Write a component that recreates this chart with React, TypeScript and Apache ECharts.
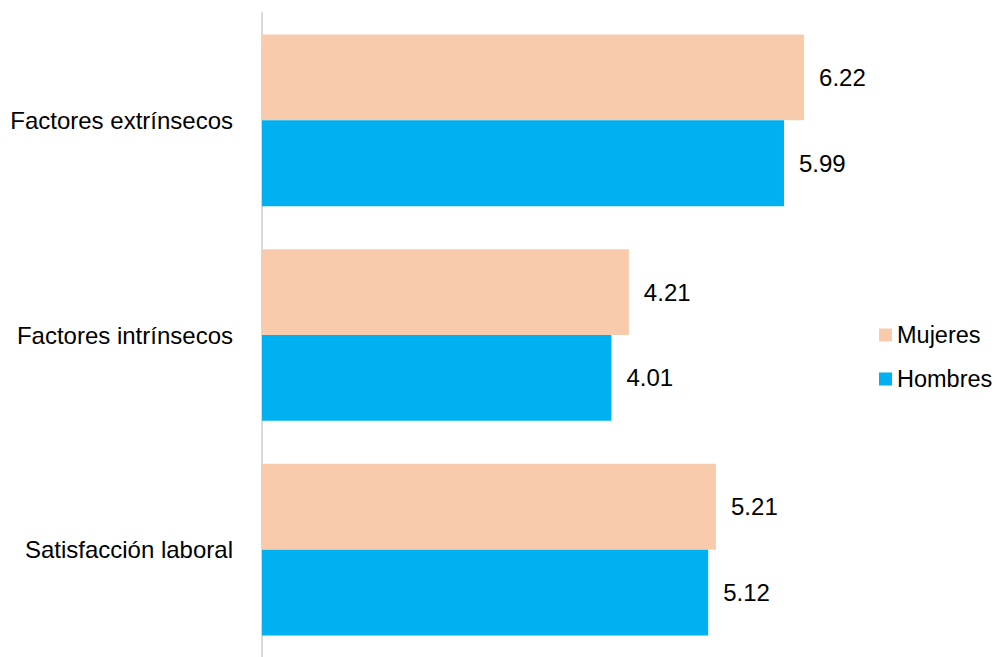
import React, { useEffect, useRef } from "react";
import * as echarts from "echarts";

const categories = ["Factores extrínsecos", "Factores intrínsecos", "Satisfacción laboral"];
const mujeres = [6.22, 4.21, 5.21];
const hombres = [5.99, 4.01, 5.12];

export default function App() {
  const ref = useRef<HTMLDivElement>(null);
  useEffect(() => {
    const chart = echarts.init(ref.current!, null, { renderer: "svg" });
    const font = "Liberation Sans, Arial, sans-serif";
    const fs = 24;
    chart.setOption({
      animation: false,
      backgroundColor: "#ffffff",
      grid: { left: 262, top: 13, width: 610, height: 647 },
      legend: {
        orient: "vertical",
        left: 879,
        top: 323,
        padding: 0,
        itemWidth: 13,
        itemHeight: 13,
        itemGap: 20,
        icon: "rect",
        textStyle: { fontFamily: font, fontSize: 23.5, color: "#000", lineHeight: 24 },
        data: ["Mujeres", "Hombres"],
      },
      xAxis: {
        type: "value",
        min: 0,
        max: 7,
        show: false,
      },
      yAxis: {
        type: "category",
        inverse: true,
        data: categories,
        axisLine: { show: true, lineStyle: { color: "#d9d9d9", width: 2 } },
        axisTick: { show: false },
        axisLabel: { fontFamily: font, fontSize: fs, color: "#000", margin: 29 },
      },
      series: [
        {
          name: "Mujeres",
          type: "bar",
          data: mujeres,
          barGap: "0%",
          barCategoryGap: "20%",
          itemStyle: { color: "#F8CBAD" },
          label: { show: true, position: "right", distance: 15, fontFamily: font, fontSize: fs, color: "#000", formatter: (p: any) => p.value.toFixed(2) },
        },
        {
          name: "Hombres",
          type: "bar",
          data: hombres,
          barGap: "0%",
          barCategoryGap: "20%",
          itemStyle: { color: "#00B0F0" },
          label: { show: true, position: "right", distance: 15, fontFamily: font, fontSize: fs, color: "#000", formatter: (p: any) => p.value.toFixed(2) },
        },
      ],
    });
    return () => chart.dispose();
  }, []);
  return <div ref={ref} style={{ position: "fixed", left: 0, top: 0, width: 997, height: 657 }} />;
}
